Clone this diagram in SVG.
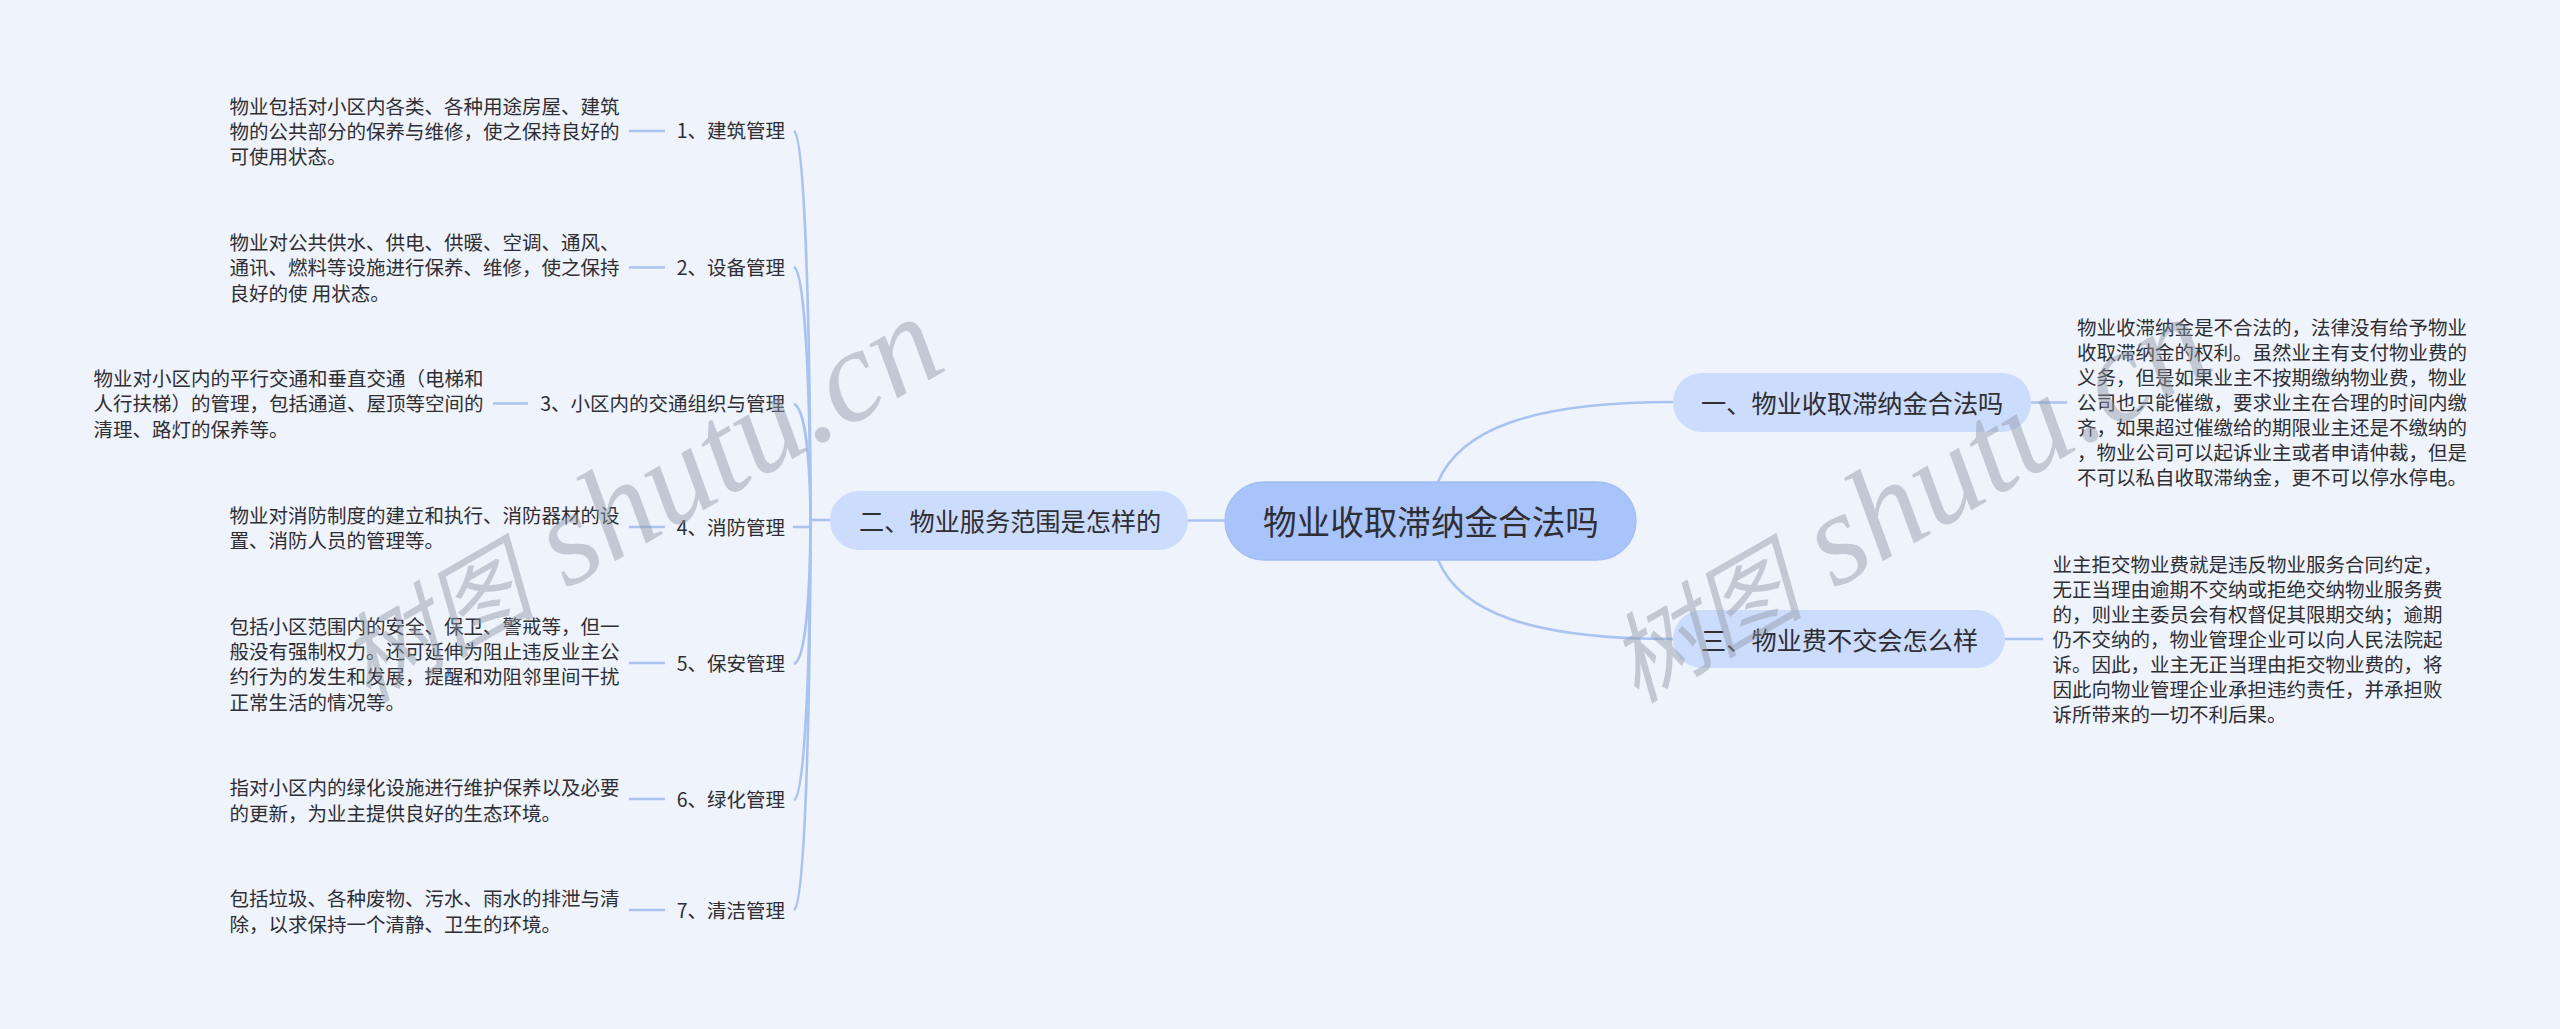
<svg xmlns="http://www.w3.org/2000/svg" width="2560" height="1029" viewBox="0 0 2560 1029">
<style>
text{font-family:"Noto Sans CJK SC","Noto Sans",sans-serif;fill:#2e2e33}
.d{font-size:19.5px;dominant-baseline:central;transform:translateY(-1.5px)}
.l{font-size:19.5px;dominant-baseline:central;text-anchor:end;transform:translateY(-1.5px)}
.b{font-size:25.2px;dominant-baseline:central}
.c{fill:none;stroke:#a9c3f1;stroke-width:2.6}
.p{fill:#ccdcfc}
.wm{font-family:"Liberation Serif","Noto Sans CJK SC",serif;font-style:italic;font-size:132px;fill:#8f97a3;fill-opacity:.45}
.wz{font-size:98px}
</style>
<rect width="2560" height="1029" fill="#eef3fc"/>
<g id="connectors">
<path class="c" d="M1438 482C1460 430 1530 402 1673 402"/>
<path class="c" d="M1438 560C1460 612 1530 639 1673 639"/>
<path class="c" d="M1188 520.500H1225"/>
<path class="c" d="M2031 402.500H2067"/>
<path class="c" d="M2005 639H2043"/>
<path class="c" d="M830 520H810"/>
<path class="c" d="M794 131C804 136 810 300 810.500 521"/>
<path class="c" d="M794 267C804 272 810 370 810.500 521"/>
<path class="c" d="M794 404C804 408 810 450 810.500 521"/>
<path class="c" d="M793 527H810"/>
<path class="c" d="M794 664C804 660 810 610 810.500 521"/>
<path class="c" d="M794 800C804 796 810 680 810.500 521"/>
<path class="c" d="M794 910C804 905 810 740 810.500 521"/>
<path class="c" d="M629 131H665"/>
<path class="c" d="M629 267.500H665"/>
<path class="c" d="M493 403.500H528"/>
<path class="c" d="M629 527H665"/>
<path class="c" d="M629 663H665"/>
<path class="c" d="M629 799H665"/>
<path class="c" d="M629 910H665"/>
</g>
<g id="root"><rect x="1225" y="482" width="411" height="78" rx="39" fill="#a9c4fb" stroke="#a3bdf0" stroke-width="1.300"/><text x="1263" y="520" font-size="33.600" dominant-baseline="central">物业收取滞纳金合法吗</text></g>
<g id="n1"><rect class="p" x="1673" y="373" width="358" height="59" rx="29"/><text class="b" x="1701" y="402">一、物业收取滞纳金合法吗</text></g>
<g id="n2"><rect class="p" x="830" y="491" width="358" height="59" rx="29"/><text class="b" x="859" y="520">二、物业服务范围是怎样的</text></g>
<g id="n3"><rect class="p" x="1673" y="610" width="332" height="58" rx="29"/><text class="b" x="1701" y="639">三、物业费不交会怎么样</text></g>
<g id="n1-t"><text class="d" x="2077" y="328">物业收滞纳金是不合法的，法律没有给予物业</text><text class="d" x="2077" y="353">收取滞纳金的权利。虽然业主有支付物业费的</text><text class="d" x="2077" y="378">义务，但是如果业主不按期缴纳物业费，物业</text><text class="d" x="2077" y="403">公司也只能催缴，要求业主在合理的时间内缴</text><text class="d" x="2077" y="428">齐，如果超过催缴给的期限业主还是不缴纳的</text><text class="d" x="2077" y="453">，物业公司可以起诉业主或者申请仲裁，但是</text><text class="d" x="2077" y="478">不可以私自收取滞纳金，更不可以停水停电。</text></g>
<g id="n3-t"><text class="d" x="2052.500" y="565">业主拒交物业费就是违反物业服务合同约定，</text><text class="d" x="2052.500" y="589.500">无正当理由逾期不交纳或拒绝交纳物业服务费</text><text class="d" x="2052.500" y="614.500">的，则业主委员会有权督促其限期交纳；逾期</text><text class="d" x="2052.500" y="639.500">仍不交纳的，物业管理企业可以向人民法院起</text><text class="d" x="2052.500" y="664.500">诉。因此，业主无正当理由拒交物业费的，将</text><text class="d" x="2052.500" y="689.500">因此向物业管理企业承担违约责任，并承担败</text><text class="d" x="2052.500" y="714.500">诉所带来的一切不利后果。</text></g>
<g id="a1"><text class="l" x="785" y="131">1、建筑管理</text><text class="d" x="229.500" y="106.500">物业包括对小区内各类、各种用途房屋、建筑</text><text class="d" x="229.500" y="132">物的公共部分的保养与维修，使之保持良好的</text><text class="d" x="229.500" y="157">可使用状态。</text></g>
<g id="a2"><text class="l" x="785" y="267.500">2、设备管理</text><text class="d" x="229.500" y="243">物业对公共供水、供电、供暖、空调、通风、</text><text class="d" x="229.500" y="268">通讯、燃料等设施进行保养、维修，使之保持</text><text class="d" x="229.500" y="293.500">良好的使 用状态。</text></g>
<g id="a3"><text class="l" x="785" y="404">3、小区内的交通组织与管理</text><text class="d" x="93.500" y="379">物业对小区内的平行交通和垂直交通（电梯和</text><text class="d" x="93.500" y="404">人行扶梯）的管理，包括通道、屋顶等空间的</text><text class="d" x="93.500" y="429.500">清理、路灯的保养等。</text></g>
<g id="a4"><text class="l" x="785" y="527.500">4、消防管理</text><text class="d" x="229.500" y="515.500">物业对消防制度的建立和执行、消防器材的设</text><text class="d" x="229.500" y="540.500">置、消防人员的管理等。</text></g>
<g id="a5"><text class="l" x="785" y="664">5、保安管理</text><text class="d" x="229.500" y="627">包括小区范围内的安全、保卫、警戒等，但一</text><text class="d" x="229.500" y="652">般没有强制权力。还可延伸为阻止违反业主公</text><text class="d" x="229.500" y="677">约行为的发生和发展，提醒和劝阻邻里间干扰</text><text class="d" x="229.500" y="702.500">正常生活的情况等。</text></g>
<g id="a6"><text class="l" x="785" y="800">6、绿化管理</text><text class="d" x="229.500" y="788">指对小区内的绿化设施进行维护保养以及必要</text><text class="d" x="229.500" y="814">的更新，为业主提供良好的生态环境。</text></g>
<g id="a7"><text class="l" x="785" y="911">7、清洁管理</text><text class="d" x="229.500" y="899">包括垃圾、各种废物、污水、雨水的排泄与清</text><text class="d" x="229.500" y="925">除，以求保持一个清静、卫生的环境。</text></g>
<g id="watermark"><text class="wm" transform="translate(368 704) rotate(-30)"><tspan class="wz">树图</tspan> shutu.cn</text><text class="wm" transform="translate(1636 704) rotate(-30)"><tspan class="wz">树图</tspan> shutu.cn</text></g>
</svg>
